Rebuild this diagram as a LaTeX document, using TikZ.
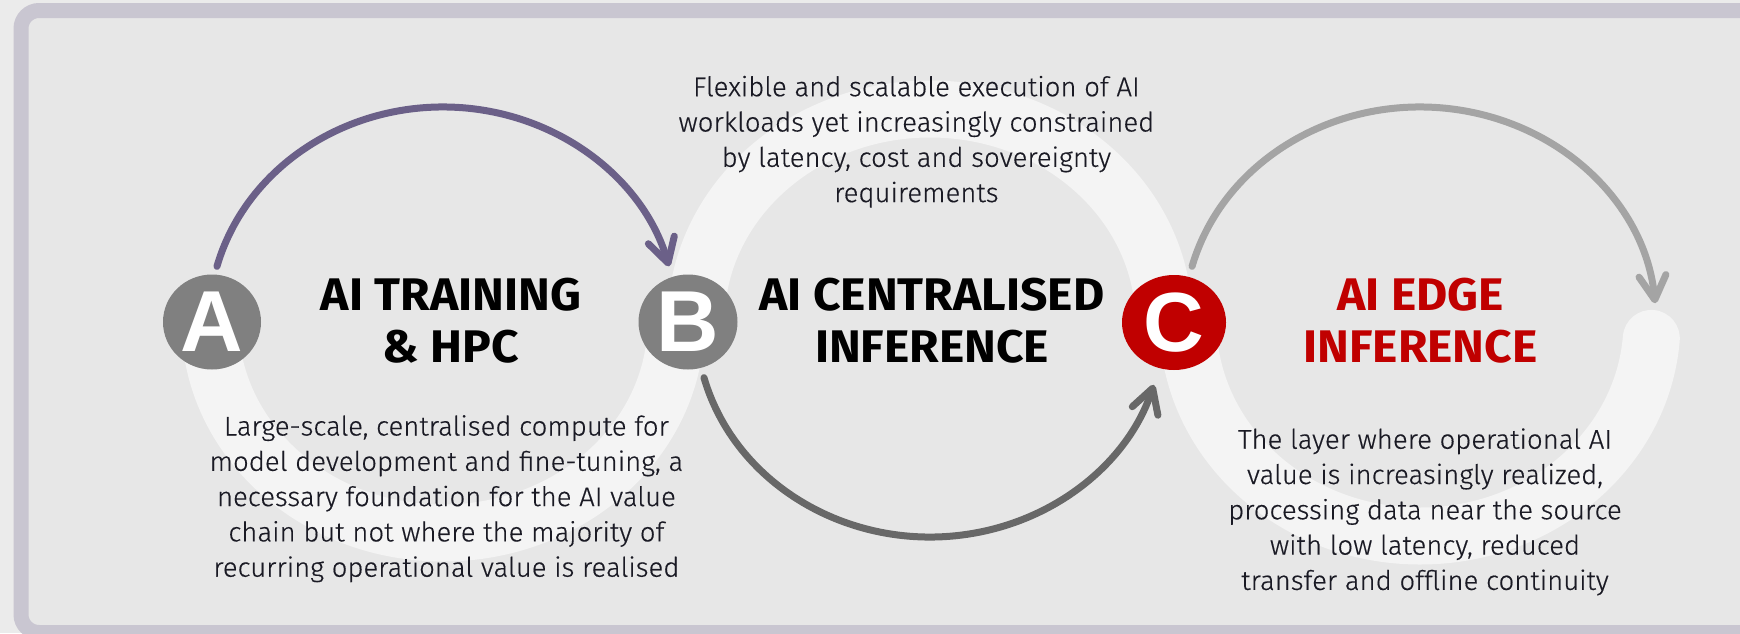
\documentclass[tikz,border=0pt]{standalone}
\usepackage{fontspec}
\usetikzlibrary{arrows.meta,shapes.geometric}
\setmainfont{Fira Sans}
\newfontfamily\bodyfont{Fira Sans Light}[FakeStretch=1.02,FakeBold=0.4]
\newfontfamily\titlefont{Fira Sans}[FakeStretch=1.05]
\newfontfamily\letterfont{Liberation Sans}
\definecolor{outerbg}{HTML}{EBEBEB}
\definecolor{innerbg}{HTML}{E7E7E7}
\definecolor{framec}{HTML}{C9C6D1}
\definecolor{bandc}{HTML}{F4F4F4}
\definecolor{purplec}{HTML}{6B6088}
\definecolor{darkarr}{HTML}{686868}
\definecolor{lightarr}{HTML}{A4A4A4}
\definecolor{lettergrey}{HTML}{808080}
\definecolor{redc}{HTML}{C00000}
\definecolor{bodytext}{HTML}{1A1A24}
\begin{document}
\begin{tikzpicture}[x=1pt,y=1pt,
  band/.style={line width=57pt, draw=bandc},
  arr/.style={line width=7pt, line cap=round,
    -{Straight Barb[length=24pt,width=27pt,line cap=round,line join=round]}},
  letterdisc/.style={ellipse, inner sep=0pt, text=white,
    font=\letterfont\bfseries\fontsize{86.6}{86.6}\selectfont},
  titletext/.style={anchor=base, align=center, inner sep=0pt, text=black,
    font=\titlefont\bfseries\fontsize{45.7}{51.8}\selectfont},
  bodytextstyle/.style={anchor=base, align=center, inner sep=0pt, text=bodytext,
    font=\bodyfont\fontsize{27}{35.3}\selectfont}
]
\useasboundingbox (0,0) rectangle (1740,-633);
\fill[outerbg] (0,0) rectangle (1740,-633);
\draw[framec, line width=15pt, fill=innerbg, rounded corners=18pt] (21,-10.5) rectangle (1780,-632.5);

\coordinate (r1) at (443,-322);
\coordinate (r2) at (930,-322);
\coordinate (r3) at (1420,-322);

% light bands
\draw[band] (r1) ++(180:233 and 211) arc[start angle=180,end angle=360,x radius=233,y radius=211];
\draw[band] (r2) ++(180:234 and 213) arc[start angle=180,end angle=0,x radius=234,y radius=213];
\draw[band, line cap=round] (r3) ++(180:232 and 214) arc[start angle=180,end angle=355.6,x radius=232,y radius=214];

% arrows
\draw[arr, purplec] (r1) ++(165:234 and 215) arc[start angle=165,end angle=15,x radius=234,y radius=215];
\draw[arr, darkarr] (r2) ++(195:234 and 215) arc[start angle=195,end angle=343,x radius=234,y radius=215];
\draw[arr, lightarr] (r3) ++(165:236 and 215) arc[start angle=165,end angle=5,x radius=236,y radius=215];

% letter discs
\node[letterdisc, fill=lettergrey, minimum width=98pt, minimum height=95pt] (A) at (212,-322) {A};
\node[letterdisc, fill=lettergrey, minimum width=99pt, minimum height=95pt] (B) at (688,-322) {B};
\node[letterdisc, fill=redc, minimum width=104pt, minimum height=95pt,
  font=\letterfont\bfseries\fontsize{84}{84}\selectfont] (C) at (1174,-322.5) {C};

% titles (anchor = baseline of last line)
\node[titletext] (tA) at (451,-362.3) {AI TRAINING\\\& HPC};
\node[titletext] (tB) at (932,-362.3) {AI CENTRALISED\\INFERENCE};
\node[titletext, text=redc] (tC) at (1420.6,-362.3) {AI EDGE\\INFERENCE};

% descriptions (anchor = baseline of last line)
\node[bodytextstyle] (dA) at (446.4,-576.7) {Large-scale, centralised compute for\\model development and fine-tuning, a\\necessary foundation for the AI value\\chain but not where the majority of\\recurring operational value is realised};
\node[bodytextstyle] (dB) at (916.4,-202.1) {Flexible and scalable execution of AI\\workloads yet increasingly constrained\\by latency, cost and sovereignty\\requirements};
\node[bodytextstyle] (dC) at (1425,-589.9) {The layer where operational AI\\value is increasingly realized,\\processing data near the source\\with low latency, reduced\\transfer and offline continuity};
\end{tikzpicture}
\end{document}
